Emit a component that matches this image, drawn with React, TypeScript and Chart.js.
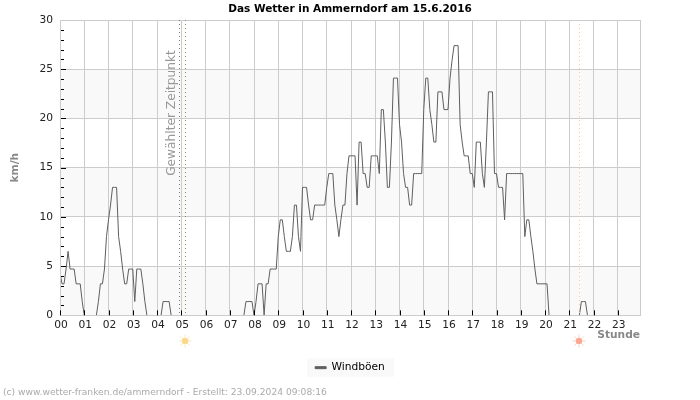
import React, { useEffect, useRef } from "react";
import { Chart, registerables } from "chart.js";

Chart.register(...registerables);

const FONT = "'DejaVu Sans'";

const chartTitle = "Das Wetter in Ammerndorf am 15.6.2016";
const seriesName = "Windböen";
const yAxisTitle = "km/h";
const xAxisTitle = "Stunde";
const markerLabel = "Gewählter Zeitpunkt";
const footerText = "(c) www.wetter-franken.de/ammerndorf - Erstellt: 23.09.2024 09:08:16";

const selectedHour = 4.9;
const sunriseHour = 5.16;
const sunsetHour = 21.4;

const hourLabels = ["00","01","02","03","04","05","06","07","08","09","10","11","12","13","14","15","16","17","18","19","20","21","22","23"];
const yMajor = [5, 10, 15, 20, 25];
const bands = [[0, 5], [10, 15], [20, 25]];

// one row per hour, one value per five minutes
const windboeen = [
  4.3, 3.2, 3.2, 4.7, 6.5, 4.7, 4.7, 4.7, 3.2, 3.2, 3.2, 1.4,
  0, 0, 0, 0, 0, 0, 0, 1.4, 3.2, 3.2, 4.7, 8,
  9.7, 11.2, 13, 13, 13, 8, 6.5, 4.7, 3.2, 3.2, 4.7, 4.7,
  4.7, 1.4, 4.7, 4.7, 4.7, 3.2, 1.4, 0, 0, 0, 0, 0,
  0, 0, 0, 1.4, 1.4, 1.4, 1.4, 0, 0, 0, 0, 0,
  0, 0, 0, 0, 0, 0, 0, 0, 0, 0, 0, 0,
  0, 0, 0, 0, 0, 0, 0, 0, 0, 0, 0, 0,
  0, 0, 0, 0, 0, 0, 0, 0, 1.4, 1.4, 1.4, 1.4,
  0, 1.4, 3.2, 3.2, 3.2, 0, 3.2, 3.2, 4.7, 4.7, 4.7, 4.7,
  8, 9.7, 9.7, 8, 6.5, 6.5, 6.5, 8, 11.2, 11.2, 8, 6.5,
  13, 13, 13, 11.2, 9.7, 9.7, 11.2, 11.2, 11.2, 11.2, 11.2, 11.2,
  13, 14.4, 14.4, 14.4, 11.2, 9.7, 8, 9.7, 11.2, 11.2, 14.4, 16.2,
  16.2, 16.2, 16.2, 11.2, 17.6, 17.6, 14.4, 14.4, 13, 13, 16.2, 16.2,
  16.2, 16.2, 14.4, 20.9, 20.9, 17.6, 13, 13, 17.6, 24.1, 24.1, 24.1,
  19.4, 17.6, 14.4, 13, 13, 11.2, 11.2, 14.4, 14.4, 14.4, 14.4, 14.4,
  20.9, 24.1, 24.1, 20.9, 19.4, 17.6, 17.6, 22.7, 22.7, 22.7, 20.9, 20.9,
  20.9, 24.1, 25.9, 27.4, 27.4, 27.4, 19.4, 17.6, 16.2, 16.2, 16.2, 14.4,
  14.4, 13, 17.6, 17.6, 17.6, 14.4, 13, 17.6, 22.7, 22.7, 22.7, 14.4,
  14.4, 13, 13, 13, 9.7, 14.4, 14.4, 14.4, 14.4, 14.4, 14.4, 14.4,
  14.4, 14.4, 8, 9.7, 9.7, 8, 6.5, 4.7, 3.2, 3.2, 3.2, 3.2,
  3.2, 3.2, 0, 0, 0, 0, 0, 0, 0, 0, 0, 0,
  0, 0, 0, 0, 0, 0, 1.4, 1.4, 1.4, 0, 0, 0,
  0, 0, 0, 0, 0, 0, 0, 0, 0, 0, 0, 0,
  0, 0, 0, 0, 0, 0, 0, 0, 0, 0, 0, 0,
];

function drawSun(ctx: CanvasRenderingContext2D, x: number, y: number, color: string) {
  ctx.save();
  ctx.fillStyle = color;
  ctx.strokeStyle = color;
  ctx.globalAlpha = 0.55;
  ctx.lineWidth = 1;
  for (let i = 0; i < 8; i++) {
    const a = (i * Math.PI) / 4;
    ctx.beginPath();
    ctx.moveTo(x + Math.cos(a) * 3.5, y + Math.sin(a) * 3.5);
    ctx.lineTo(x + Math.cos(a) * 6.5, y + Math.sin(a) * 6.5);
    ctx.stroke();
  }
  ctx.globalAlpha = 1;
  ctx.beginPath();
  ctx.arc(x, y, 3.3, 0, Math.PI * 2);
  ctx.fill();
  ctx.restore();
}

const decorPlugin = {
  id: "decor",
  beforeDraw(chart: any) {
    const { ctx, chartArea: a, scales, legend } = chart;
    ctx.save();
    ctx.fillStyle = "#f9f9f9";
    for (const [lo, hi] of bands) {
      const top = scales.y.getPixelForValue(hi);
      ctx.fillRect(a.left, top, a.right - a.left, scales.y.getPixelForValue(lo) - top);
    }
    if (legend && legend.legendHitBoxes[0]) {
      const hit = legend.legendHitBoxes[0];
      ctx.fillRect(hit.left - 8, legend.top, hit.width + 17, 18.5);
    }
    ctx.restore();
  },
  afterDraw(chart: any) {
    const { ctx, chartArea: a, scales } = chart;
    ctx.save();
    // border
    ctx.strokeStyle = "#cccccc";
    ctx.lineWidth = 1;
    ctx.strokeRect(Math.round(a.left) + 0.5, Math.round(a.top) + 0.5, Math.round(a.right - a.left), Math.round(a.bottom - a.top));
    // tick marks
    ctx.strokeStyle = "#000000";
    ctx.beginPath();
    for (let v = 1; v < 30; v++) {
      const y = Math.round(scales.y.getPixelForValue(v)) + 0.5;
      ctx.moveTo(a.left + 1, y);
      ctx.lineTo(a.left + (v % 5 === 0 ? 6 : 4), y);
    }
    hourLabels.forEach((_, h) => {
      const x = Math.round(scales.x.getPixelForValue(h)) + 0.5;
      ctx.moveTo(x, a.bottom);
      ctx.lineTo(x, a.bottom - 5);
    });
    ctx.stroke();
    // dotted marker lines
    const markers: [number, string][] = [
      [selectedHour, "#777777"],
      [sunriseHour, "#8a8a4a"],
      [sunsetHour, "#f5c9a0"],
    ];
    ctx.lineWidth = 1;
    for (const [h, c] of markers) {
      const x = Math.round(scales.x.getPixelForValue(h)) + 0.5;
      ctx.strokeStyle = c;
      ctx.setLineDash([1, 3]);
      ctx.beginPath();
      ctx.moveTo(x, a.top);
      ctx.lineTo(x, a.bottom);
      ctx.stroke();
    }
    ctx.setLineDash([]);
    // marker label
    ctx.save();
    ctx.translate(scales.x.getPixelForValue(selectedHour) - 7, a.top + 93);
    ctx.rotate(-Math.PI / 2);
    ctx.fillStyle = "#999999";
    ctx.font = `12.2px ${FONT}`;
    ctx.textAlign = "center";
    ctx.textBaseline = "middle";
    ctx.fillText(markerLabel, 0, 0);
    ctx.restore();
    // sun symbols
    drawSun(ctx, scales.x.getPixelForValue(sunriseHour), 341, "#fbd98a");
    drawSun(ctx, scales.x.getPixelForValue(sunsetHour), 341, "#fca993");
    // footer
    ctx.fillStyle = "#aaaaaa";
    ctx.font = `9.15px ${FONT}`;
    ctx.textAlign = "left";
    ctx.textBaseline = "middle";
    ctx.fillText(footerText, 3, 393);
    ctx.restore();
  },
};

export default function App() {
  const ref = useRef<HTMLCanvasElement | null>(null);
  useEffect(() => {
    document.body.style.margin = "0";
    const chart = new Chart(ref.current as HTMLCanvasElement, {
      type: "line",
      data: {
        datasets: [
          {
            label: seriesName,
            data: windboeen.map((v, i) => ({ x: i / 12, y: v })),
            borderColor: "#5f5f5f",
            backgroundColor: "#5f5f5f",
            borderWidth: 1,
            pointRadius: 0,
            stepped: false,
            tension: 0,
            fill: false,
            segment: {
              borderColor: (c: any) => (c.p0.parsed.y === 0 && c.p1.parsed.y === 0 ? "transparent" : undefined),
            },
          },
        ],
      } as any,
      options: {
        responsive: false,
        animation: false,
        layout: { padding: { top: 3, bottom: 17, left: 0, right: 0 } },
        plugins: {
          title: {
            display: true,
            text: chartTitle,
            color: "#000000",
            font: { family: FONT, size: 10.5, weight: "bold", lineHeight: 1.2 },
            padding: { top: 0, bottom: 4.4 },
          },
          legend: {
            position: "bottom",
            labels: {
              color: "#000000",
              font: { family: FONT, size: 10.67 },
              boxWidth: 11,
              boxHeight: 2,
              padding: 4,
            },
          },
          tooltip: { enabled: false },
        },
        scales: {
          x: {
            type: "linear",
            min: 0,
            max: 287 / 12,
            border: { display: false },
            grid: { color: "#cccccc", lineWidth: 1, drawTicks: false },
            title: {
              display: true,
              text: xAxisTitle,
              align: "end",
              color: "#888888",
              font: { family: FONT, size: 10.67, weight: "bold" },
              padding: { top: 0, bottom: 17 },
            },
            ticks: {
              stepSize: 1,
              includeBounds: false,
              autoSkip: false,
              maxRotation: 0,
              color: "#222222",
              padding: 3,
              labelOffset: 1,
              font: { family: FONT, size: 10.67 },
              callback: (v: any) => hourLabels[v] ?? "",
            },
            afterFit: (s: any) => {
              s.height = 43;
            },
          },
          y: {
            min: 0,
            max: 30,
            position: "left",
            border: { display: false },
            grid: {
              drawTicks: false,
              color: (c: any) => (yMajor.includes(c.tick.value) ? "#cccccc" : "transparent"),
            },
            title: {
              display: true,
              text: yAxisTitle,
              color: "#888888",
              font: { family: FONT, size: 10.67, weight: "bold" },
              padding: { top: 9, bottom: 0 },
            },
            ticks: {
              stepSize: 1,
              autoSkip: false,
              color: "#222222",
              padding: 7,
              font: { family: FONT, size: 10.67 },
              callback: (v: any) => (v % 5 === 0 ? String(v) : ""),
            },
            afterFit: (s: any) => {
              s.width = 60;
            },
          },
          yRight: {
            position: "right",
            min: 0,
            max: 30,
            border: { display: false },
            grid: { display: false },
            ticks: { display: false },
            afterFit: (s: any) => {
              s.width = 60;
            },
          },
        },
      } as any,
      plugins: [decorPlugin],
    });
    return () => chart.destroy();
  }, []);
  return <canvas ref={ref} width={700} height={400} style={{ display: "block", width: 700, height: 400 }} />;
}
